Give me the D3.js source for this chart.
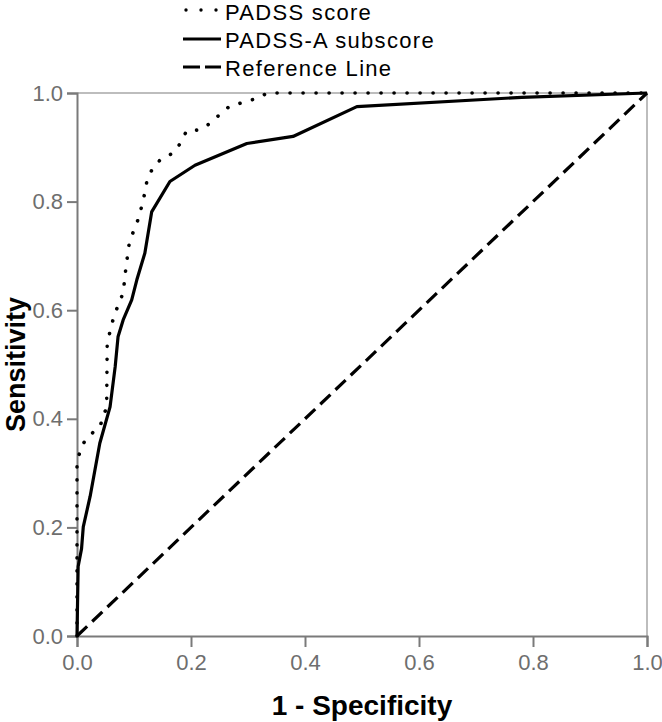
<!DOCTYPE html>
<html>
<head>
    <style>
        body { margin: 0; background: #fff; }
        svg text { font-family: Arial, "Liberation Sans", sans-serif; }
    </style>
</head>
<body>
    <script src="https://cdn.jsdelivr.net/npm/d3@7"></script>
    <script>
        const width = 662;
        const height = 722;
        const margin = {top: 93, right: 15, bottom: 86, left: 77};

        // ROC points: [1 - specificity, sensitivity]
        const padssScore = [
            [0, 0], [0, 0.32], [0.008, 0.35], [0.02, 0.368], [0.04, 0.385],
            [0.052, 0.422], [0.053, 0.54], [0.065, 0.59], [0.081, 0.632],
            [0.086, 0.68], [0.092, 0.726], [0.109, 0.772], [0.119, 0.816],
            [0.123, 0.84], [0.133, 0.862], [0.147, 0.878], [0.168, 0.889],
            [0.182, 0.908], [0.192, 0.93], [0.214, 0.932], [0.232, 0.943],
            [0.249, 0.959], [0.267, 0.975], [0.289, 0.982], [0.312, 0.989],
            [0.335, 1.0], [1, 1]
        ];
        const padssASubscore = [
            [0, 0], [0.002, 0.128], [0.008, 0.161], [0.011, 0.201], [0.023, 0.257],
            [0.04, 0.355], [0.058, 0.422], [0.067, 0.496], [0.072, 0.551],
            [0.081, 0.582], [0.096, 0.619], [0.105, 0.656], [0.119, 0.705],
            [0.131, 0.781], [0.163, 0.837], [0.207, 0.867], [0.298, 0.907],
            [0.379, 0.92], [0.491, 0.975], [0.78, 0.992], [1, 1]
        ];
        const referenceLine = [[0, 0], [1, 1]];

        const ticks = [0, 0.2, 0.4, 0.6, 0.8, 1.0];
        const legendLabels = ["PADSS score", "PADSS-A subscore", "Reference Line"];
        const dashes = ["0.1,12.9", null, "14,7"];

        const w = width - margin.left - margin.right;
        const h = height - margin.top - margin.bottom;

        const svg = d3.select("body").append("svg")
            .attr("width", width).attr("height", height);

        const x = d3.scaleLinear().domain([0, 1]).range([margin.left, margin.left + w]);
        const y = d3.scaleLinear().domain([0, 1]).range([margin.top + h, margin.top]);

        // frame (top + right)
        svg.append("path")
            .attr("d", `M${x(0)},${y(1)}H${x(1)}V${y(0)}`)
            .attr("fill", "none").attr("stroke", "#a8a8a8").attr("stroke-width", 1.5);

        const xAxis = svg.append("g")
            .attr("transform", `translate(0,${y(0)})`)
            .call(d3.axisBottom(x).tickValues(ticks).tickFormat(d3.format(".1f")).tickSize(11).tickPadding(7));
        const yAxis = svg.append("g")
            .attr("transform", `translate(${x(0)},0)`)
            .call(d3.axisLeft(y).tickValues(ticks).tickFormat(d3.format(".1f")).tickSize(10).tickPadding(4));

        [xAxis, yAxis].forEach(a => {
            a.selectAll("path, line").attr("stroke", "#7a7a7a").attr("stroke-width", 2);
            a.selectAll("text").attr("font-size", 22).attr("fill", "#6e6e6e")
                .attr("font-family", "Arial, 'Liberation Sans', sans-serif");
        });

        const line = d3.line().x(d => x(d[0])).y(d => y(d[1]));

        const series = [padssScore, padssASubscore, referenceLine];
        series.forEach((s, i) => {
            svg.append("path")
                .datum(s)
                .attr("d", line)
                .attr("fill", "none")
                .attr("stroke", "#000")
                .attr("stroke-width", i == 0 ? 3.6 : 3.2)
                .attr("stroke-linecap", i == 0 ? "round" : "butt")
                .attr("stroke-linejoin", "round")
                .attr("stroke-dasharray", dashes[i]);
        });

        // legend
        const legend = svg.append("g");
        legendLabels.forEach((lab, i) => {
            const by = 20 + i * 28;
            const g = legend.append("g");
            if (i == 0) {
                [186, 201, 216].forEach(cx => g.append("circle")
                    .attr("cx", cx).attr("cy", by - 10).attr("r", 1.7).attr("fill", "#000"));
            } else if (i == 1) {
                g.append("line").attr("x1", 183).attr("x2", 221)
                    .attr("y1", by - 9).attr("y2", by - 9)
                    .attr("stroke", "#000").attr("stroke-width", 3);
            } else {
                g.append("line").attr("x1", 183).attr("x2", 221)
                    .attr("y1", by - 9).attr("y2", by - 9)
                    .attr("stroke", "#000").attr("stroke-width", 3)
                    .attr("stroke-dasharray", "17,5");
            }
            g.append("text").attr("x", 225).attr("y", by)
                .attr("font-size", 22).attr("letter-spacing", 1.3)
                .attr("fill", "#000").text(lab);
        });

        // axis titles
        svg.append("text")
            .attr("x", x(0.5)).attr("y", 715)
            .attr("text-anchor", "middle").attr("font-size", 28).attr("font-weight", "bold")
            .text("1 - Specificity");
        svg.append("text")
            .attr("transform", `translate(25,${y(0.5)}) rotate(-90)`)
            .attr("text-anchor", "middle").attr("font-size", 27).attr("font-weight", "bold")
            .text("Sensitivity");
    </script>
</body>
</html>
